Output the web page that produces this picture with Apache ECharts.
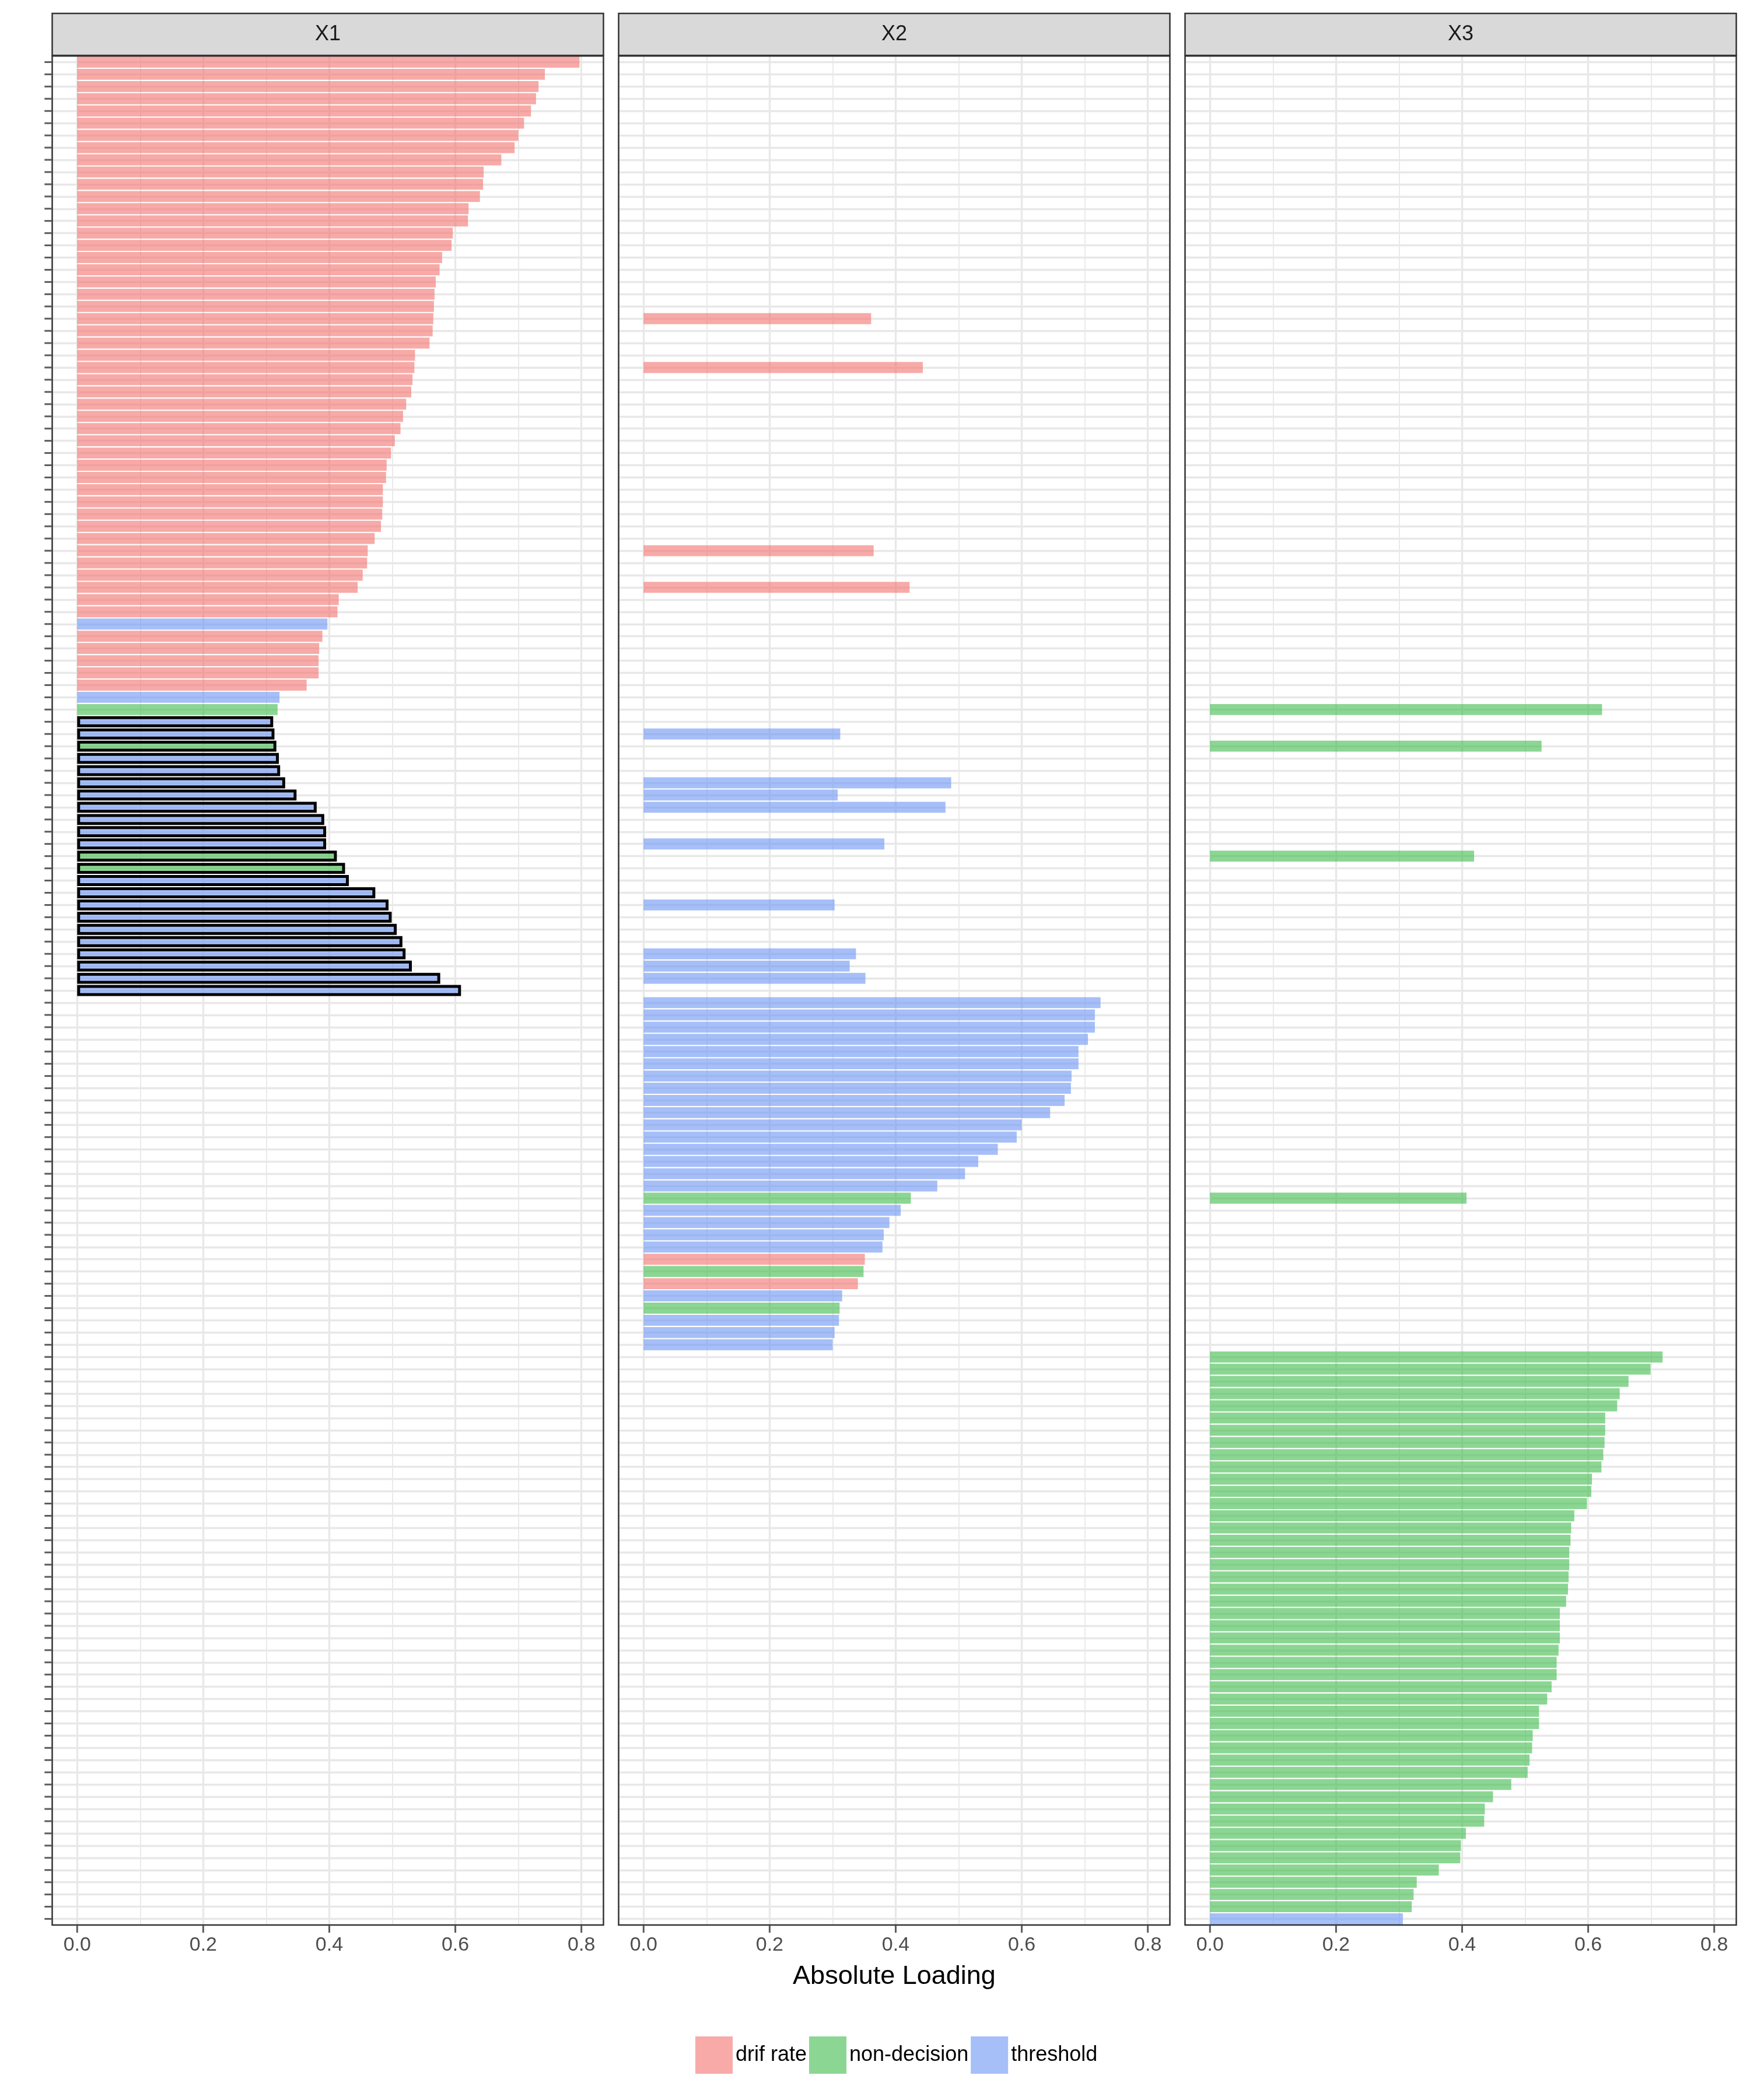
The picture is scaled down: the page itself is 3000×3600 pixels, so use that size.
<!DOCTYPE html>
<html><head><meta charset="utf-8">
<script src="https://cdn.jsdelivr.net/npm/echarts@6/dist/echarts.min.js"></script>
<style>html,body{margin:0;padding:0;background:#fff}#c{width:3000px;height:3600px}</style>
</head><body><div id="c"></div>
<script>
// ---------------- data ----------------
const facetNames = ['X1', 'X2', 'X3'];
const typeKeys = ['D', 'N', 'T'];
const typeNames = ['drif rate', 'non-decision', 'threshold'];
const xTickValues = [0, 0.2, 0.4, 0.6, 0.8];
const xMinorValues = [0.1, 0.3, 0.5, 0.7];

// variable type of each of the 153 rows (top to bottom), run-length coded
const typeRuns = [['D',46],['T',1],['D',5],['T',1],['N',1],['T',2],['N',1],['T',8],['N',2],['T',26],
                  ['N',1],['T',4],['D',1],['N',1],['D',1],['T',1],['N',1],['T',3],['N',46],['T',1]];

// X1 loadings for rows 1..77 (negative = drawn with black outline)
const loadX1 = [0.797,0.742,0.732,0.728,0.720,0.709,0.700,0.694,0.673,0.645,
                0.644,0.639,0.621,0.620,0.596,0.594,0.579,0.575,0.569,0.567,
                0.566,0.565,0.564,0.559,0.536,0.535,0.532,0.530,0.522,0.517,
                0.513,0.504,0.498,0.491,0.490,0.485,0.485,0.484,0.482,0.472,
                0.461,0.460,0.453,0.445,0.415,0.413,0.397,0.389,0.384,0.383,
                0.383,0.364,0.321,0.318,-0.311,-0.313,-0.316,-0.320,-0.322,-0.330,
                -0.348,-0.380,-0.392,-0.395,-0.395,-0.412,-0.425,-0.431,-0.473,-0.494,
                -0.499,-0.507,-0.516,-0.521,-0.531,-0.576,-0.609];

// X2: rows (1-based) and loadings
const rowsX2 = [22,26,41,44,56,60,61,62,65,70,74,75,76,
                78,79,80,81,82,83,84,85,86,87,88,89,90,91,92,93,94,95,96,97,98,99,100,101,102,103,104,105,106];
const loadX2 = [0.361,0.443,0.365,0.422,0.312,0.488,0.308,0.479,0.382,0.303,0.337,0.327,0.352,
                0.725,0.716,0.716,0.705,0.690,0.690,0.679,0.678,0.668,0.645,0.600,0.592,0.562,0.531,0.510,0.466,
                0.424,0.408,0.390,0.381,0.379,0.351,0.349,0.340,0.315,0.311,0.310,0.303,0.300];

// X3: rows (1-based) and loadings
const rowsX3 = [54,57,66,94,
                107,108,109,110,111,112,113,114,115,116,117,118,119,120,121,122,123,124,125,126,127,128,129,130,
                131,132,133,134,135,136,137,138,139,140,141,142,143,144,145,146,147,148,149,150,151,152,153];
const loadX3 = [0.622,0.526,0.419,0.407,
                0.718,0.699,0.664,0.650,0.646,0.627,0.627,0.626,0.624,0.621,0.606,0.605,0.598,0.578,0.573,0.572,
                0.570,0.570,0.569,0.568,0.565,0.555,0.555,0.555,0.553,0.550,0.550,0.542,0.535,0.522,0.522,0.512,
                0.511,0.507,0.504,0.478,0.449,0.436,0.435,0.406,0.398,0.397,0.363,0.328,0.323,0.320,0.306];

// ---------------- build ----------------
const rowTypes = [];
typeRuns.forEach(([t, n]) => { for (let k = 0; k < n; k++) rowTypes.push(t); });
const N = rowTypes.length;
const categories = rowTypes.map((t, i) => 'v' + (i + 1));

const facetVals = [new Array(N).fill(null), new Array(N).fill(null), new Array(N).fill(null)];
loadX1.forEach((v, i) => { facetVals[0][i] = v; });
rowsX2.forEach((r, i) => { facetVals[1][r - 1] = loadX2[i]; });
rowsX3.forEach((r, i) => { facetVals[2][r - 1] = loadX3[i]; });

const FONT = '"Liberation Sans", Arial, Helvetica, sans-serif';
const fills = {
  D: 'rgba(242,113,108,0.6)',
  N: 'rgba(62,187,75,0.6)',
  T: 'rgba(107,148,243,0.6)'
};
const PANEL_LEFT = [89.5, 1060.5, 2031.5];
const PW = 945, TOP = 96, PH = 3204;
const XMIN = -0.0396, XMAX = 0.835;
const GRIDCOL = '#E8E8E8';
const TICKCOL = '#333333';
const HALF_BAND = PH / N / 2;

const grids = [], xAxes = [], yAxes = [], series = [], graphics = [];

for (let f = 0; f < 3; f++) {
  grids.push({ left: PANEL_LEFT[f], top: TOP, width: PW, height: PH, containLabel: false });
  xAxes.push({
    type: 'value', gridIndex: f, min: XMIN, max: XMAX,
    axisLine: { show: false }, splitLine: { show: false },
    axisTick: { show: false },
    axisLabel: { customValues: xTickValues, formatter: v => Number(v).toFixed(1), fontSize: 34,
                 color: '#4D4D4D', margin: 18, fontFamily: FONT },
    name: f === 1 ? 'Absolute Loading' : '', nameLocation: 'middle', nameGap: 66,
    nameTextStyle: { fontSize: 45, color: '#000', fontFamily: FONT }
  });
  yAxes.push({
    type: 'category', gridIndex: f, data: categories, inverse: true,
    axisLine: { show: false }, splitLine: { show: false },
    axisLabel: { show: false }, axisTick: { show: false }
  });

  // panel gridlines, drawn beneath the translucent bars
  const ml = [];
  categories.forEach(c => ml.push({ yAxis: c, lineStyle: { color: GRIDCOL, width: 3.4, type: 'solid' } }));
  xMinorValues.forEach(v => ml.push({ xAxis: v, lineStyle: { color: GRIDCOL, width: 1.8, type: 'solid' } }));
  xTickValues.forEach(v => ml.push({ xAxis: v, lineStyle: { color: GRIDCOL, width: 3.4, type: 'solid' } }));

  typeKeys.forEach((t, ti) => {
    const data = facetVals[f].map((v, i) => {
      if (v === null || rowTypes[i] !== t) return '-';
      const item = { value: Math.abs(v) };
      if (v < 0) item.itemStyle = { borderColor: '#000000', borderWidth: 5 };
      return item;
    });
    const s = {
      type: 'bar', name: typeNames[ti], xAxisIndex: f, yAxisIndex: f,
      stack: 'facet' + f, barWidth: '90%', data: data, z: 2,
      itemStyle: { color: fills[t] }, emphasis: { disabled: true }
    };
    if (ti === 0) {
      s.markLine = { silent: true, symbol: 'none', z: 1, animation: false,
                     label: { show: false }, emphasis: { disabled: true }, data: ml };
    }
    series.push(s);
  });

  // x-axis tick marks below the panel
  series.push({
    type: 'scatter', name: 'xticks' + f, xAxisIndex: f, yAxisIndex: f, silent: true, clip: false, z: 60,
    symbol: 'rect', symbolSize: [3, 12], symbolOffset: [0, HALF_BAND + 7.2],
    itemStyle: { color: TICKCOL }, data: xTickValues.map(v => [v, categories[N - 1]])
  });

  graphics.push({ type: 'rect', z: 50, shape: { x: PANEL_LEFT[f], y: 23, width: PW, height: 72 },
                  style: { fill: '#D9D9D9', stroke: '#333333', lineWidth: 2.5 } });
  graphics.push({ type: 'text', z: 51, x: PANEL_LEFT[f] + PW / 2, y: 59,
                  style: { text: facetNames[f], fill: '#1A1A1A', font: '36px ' + FONT,
                           textAlign: 'center', textVerticalAlign: 'middle' } });
  graphics.push({ type: 'rect', z: 50, shape: { x: PANEL_LEFT[f], y: TOP, width: PW, height: PH },
                  style: { fill: null, stroke: '#333333', lineWidth: 2.5 } });
}

// y-axis tick marks on the left of the first panel (one per row)
series.push({
  type: 'scatter', name: 'yticks', xAxisIndex: 0, yAxisIndex: 0, silent: true, clip: false, z: 60,
  symbol: 'rect', symbolSize: [12, 3], symbolOffset: [-7.2, 0],
  itemStyle: { color: TICKCOL }, data: categories.map(c => [XMIN, c])
});

const chart = echarts.init(document.getElementById('c'), null, { renderer: 'canvas' });
chart.setOption({
  animation: false,
  backgroundColor: '#ffffff',
  textStyle: { fontFamily: FONT },
  grid: grids, xAxis: xAxes, yAxis: yAxes, series: series,
  legend: {
    data: typeNames, left: 1187, top: 3486, orient: 'horizontal',
    itemWidth: 64, itemHeight: 64, itemGap: 4, icon: 'rect', selectedMode: false,
    textStyle: { fontSize: 36, color: '#000', fontFamily: FONT }
  },
  graphic: graphics
});
</script>
</body></html>
